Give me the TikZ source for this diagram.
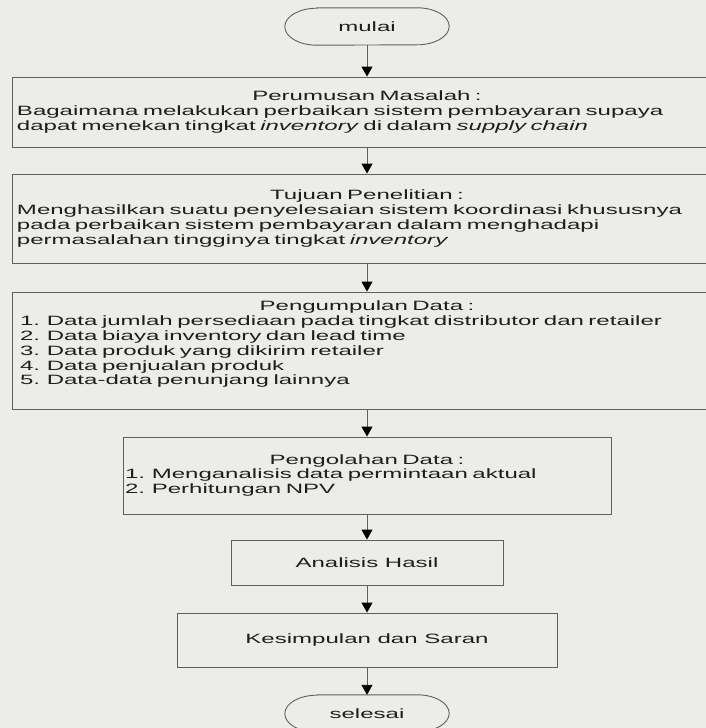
\documentclass[tikz,border=0pt]{standalone}
\usepackage{fontspec}
\setmainfont{Liberation Sans}[FakeStretch=1.78]
\usetikzlibrary{arrows.meta}
\setlength{\parindent}{0pt}
\definecolor{paper}{RGB}{236,236,233}
\definecolor{ink}{RGB}{30,30,30}
\definecolor{rule}{RGB}{95,95,95}

\begin{document}
\begin{tikzpicture}[x=1pt, y=-1pt,
    every node/.style={font=\fontsize{13.5}{14.8}\selectfont, text=ink},
    box/.style={rectangle, draw=rule, line width=0.9pt, inner xsep=5pt, inner ysep=0pt, align=left},
    terminal/.style={rectangle, minimum width=164pt, minimum height=37pt},
    flow/.style={-{Triangle[width=11pt, length=10pt, color=black]}, draw=rule, line width=0.9pt}]
    \useasboundingbox[fill=paper] (0, 0) rectangle (706, 728);
    \clip (0, 0) rectangle (706, 728);

    % Start and end
    \node[terminal] (mulai) at (367, 26.5) {mulai};
    \node[terminal] (selesai) at (367, 713.5) {selesai};
    \foreach \t in {mulai, selesai}
        \draw[rule, line width=0.9pt] ([xshift=32pt]\t.north west) -- ([xshift=-32pt]\t.north east)
            arc[start angle=-90, end angle=90, x radius=32, y radius=18.5]
            -- ([xshift=32pt]\t.south west)
            arc[start angle=90, end angle=270, x radius=32, y radius=18.5] -- cycle;

    % Steps
    \node[box, minimum width=710pt, minimum height=70pt, text width=700pt] (rumusan) at (367, 112)
        {{\centering Perumusan Masalah :\par}Bagaimana melakukan perbaikan sistem pembayaran supaya\\
         dapat menekan tingkat \textit{inventory} di dalam \textit{supply chain}};
    \node[box, minimum width=710pt, minimum height=89pt, text width=700pt] (tujuan) at (367, 218.5)
        {{\centering Tujuan Penelitian :\par}Menghasilkan suatu penyelesaian sistem koordinasi khususnya\\
         pada perbaikan sistem pembayaran dalam menghadapi\\
         permasalahan tingginya tingkat \textit{inventory}};
    \node[box, minimum width=710pt, minimum height=117pt, text width=694pt, inner xsep=8pt] (kumpul) at (367, 350.5)
        {{\centering Pengumpulan Data :\par}1. Data jumlah persediaan pada tingkat distributor dan retailer\\
         2. Data biaya inventory dan lead time\\
         3. Data produk yang dikirim retailer\\
         4. Data penjualan produk\\
         5. Data-data penunjang lainnya\\
         \mbox{}};
    \node[box, minimum width=488pt, minimum height=77pt, text width=484pt, inner xsep=2pt] (olah) at (367, 475.5)
        {{\centering Pengolahan Data :\par}1. Menganalisis data permintaan aktual\\
         2. Perhitungan NPV};
    \node[box, minimum width=272pt, minimum height=45pt] (analisis) at (367, 562.5) {Analisis Hasil};
    \node[box, minimum width=380pt, minimum height=54pt] (simpul) at (367, 640) {Kesimpulan dan Saran};

    % Edges
    \draw[flow] (mulai) -- (rumusan);
    \draw[flow] (rumusan) -- (tujuan);
    \draw[flow] (tujuan) -- (kumpul);
    \draw[flow] (kumpul) -- (olah);
    \draw[flow] (olah) -- (analisis);
    \draw[flow] (analisis) -- (simpul);
    \draw[flow] (simpul) -- (selesai);
\end{tikzpicture}
\end{document}
